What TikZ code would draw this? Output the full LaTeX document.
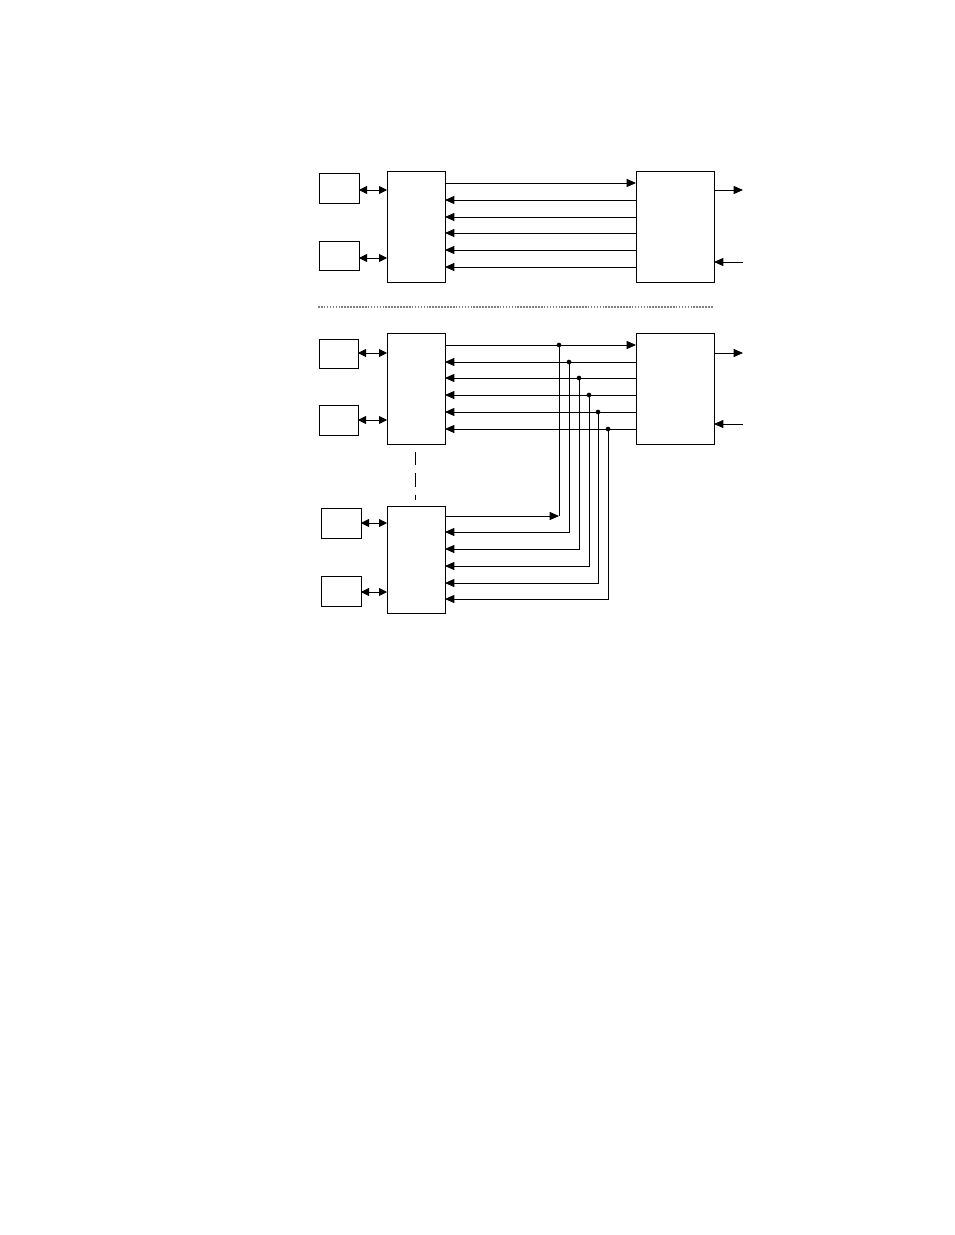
\documentclass[tikz,border=0pt]{standalone}
\usetikzlibrary{arrows.meta}
\begin{document}
\begin{tikzpicture}[x=0.75pt,y=-0.75pt,line width=0.7pt,
  tip/.style={-{Triangle[length=7pt,width=6pt]}},
  both/.style={{Triangle[length=6pt,width=6pt]}-{Triangle[length=6pt,width=6pt]}},
  dot/.style={circle,fill,inner sep=0pt,minimum size=3.5pt}]
  \useasboundingbox (0,0) rectangle (954,1235);
  % upper system
  \draw (319,173) rectangle (359,203);
  \draw (319,241) rectangle (359,270);
  \draw (387,171) rectangle (445,282);
  \draw (636,171) rectangle (714,282);
  \draw[tip] (445,183) -- (636,183);
  \foreach \y in {200,217,233,250,267}
    \draw[tip] (636,\y) -- (445,\y);
  \draw[both] (359,190) -- (387,190);
  \draw[both] (359,258) -- (387,258);
  \draw[tip] (714,190) -- (743,190);
  \draw[tip] (743,262) -- (714,262);
  % separator
  \draw[line width=1.2pt,gray,densely dotted] (318,307) -- (714,307);
  % lower system
  \draw (319,339) rectangle (358,368);
  \draw (319,405) rectangle (358,435);
  \draw (387,333) rectangle (445,444);
  \draw (636,333) rectangle (714,444);
  \draw[both] (358,353) -- (387,353);
  \draw[both] (358,420) -- (387,420);
  \draw[tip] (714,353) -- (743,353);
  \draw[tip] (743,424) -- (714,424);
  \draw[dash pattern=on 10pt off 6pt] (415,452) -- (415,500);
  \draw (321,508) rectangle (361,538);
  \draw (321,576) rectangle (361,606);
  \draw (387,506) rectangle (445,613);
  \draw[both] (361,523) -- (387,523);
  \draw[both] (361,592) -- (387,592);
  % shared bus
  \draw[tip] (445,345) -- (636,345);
  \node[dot] at (559,345) {};
  \draw (559,345) -- (559,516);
  \draw[tip] (445,516) -- (559,516);
  \foreach \y/\x/\yb in {362/569/532,378/579/549,395/589/566,412/598/583,429/608/599}{
    \draw[tip] (636,\y) -- (445,\y);
    \node[dot] at (\x,\y) {};
    \draw[tip] (\x,\y) -- (\x,\yb) -- (445,\yb);
  }
\end{tikzpicture}
\end{document}
